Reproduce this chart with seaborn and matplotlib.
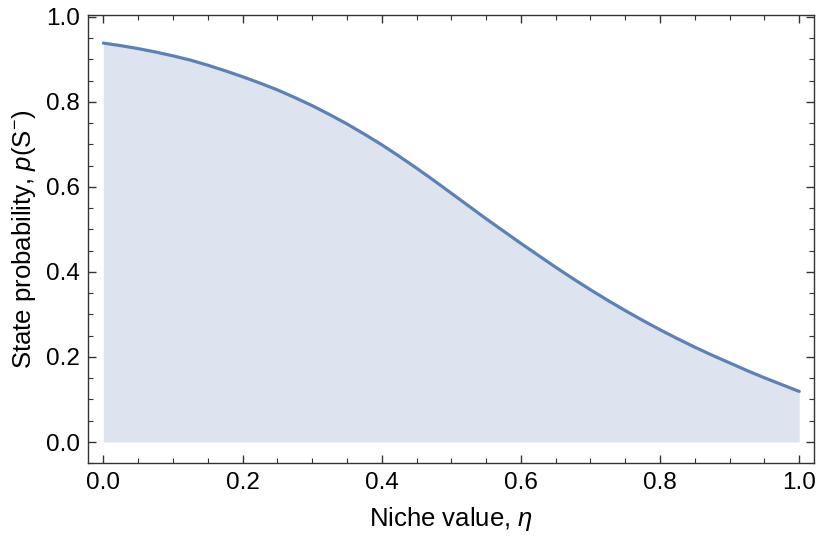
import matplotlib
matplotlib.use("Agg")
import matplotlib.pyplot as plt
import seaborn as sns
import pandas as pd
from matplotlib.ticker import MultipleLocator

eta = [0.000, 0.025, 0.050, 0.075, 0.100, 0.125, 0.150, 0.175, 0.200, 0.225,
       0.250, 0.275, 0.300, 0.325, 0.350, 0.375, 0.400, 0.425, 0.450, 0.475,
       0.500, 0.525, 0.550, 0.575, 0.600, 0.625, 0.650, 0.675, 0.700, 0.725,
       0.750, 0.775, 0.800, 0.825, 0.850, 0.875, 0.900, 0.925, 0.950, 0.975, 1.000]
prob = [0.938, 0.932, 0.925, 0.917, 0.908, 0.898, 0.886, 0.873, 0.859, 0.844,
        0.828, 0.810, 0.791, 0.770, 0.748, 0.724, 0.699, 0.672, 0.644, 0.615,
        0.585, 0.555, 0.525, 0.496, 0.467, 0.439, 0.411, 0.384, 0.358, 0.333,
        0.309, 0.286, 0.264, 0.243, 0.223, 0.204, 0.186, 0.168, 0.151, 0.135, 0.119]
x_ticks = [0.0, 0.2, 0.4, 0.6, 0.8, 1.0]
y_ticks = [0.0, 0.2, 0.4, 0.6, 0.8, 1.0]

sns.set_theme(style="ticks")
plt.rcParams['font.family'] = ['Liberation Sans', 'DejaVu Sans']
plt.rcParams['mathtext.fontset'] = 'custom'
plt.rcParams['mathtext.rm'] = 'Liberation Sans'
plt.rcParams['mathtext.it'] = 'Liberation Sans:italic'

df = pd.DataFrame({"eta": eta, "p": prob})

fig = plt.figure(figsize=(8.21, 5.46), dpi=100)
ax = fig.add_axes([0.1076, 0.1515, 0.8842, 0.821])

line_color = "#5E81B5"
ax.fill_between(df["eta"], 0, df["p"], color="#DEE4EF", linewidth=0, zorder=1)
sns.lineplot(data=df, x="eta", y="p", ax=ax, color=line_color, linewidth=2.3, zorder=3)

ax.set_xlim(-0.0216, 1.0216)
ax.set_ylim(-0.05, 1.004)
ax.set_xticks(x_ticks)
ax.set_yticks(y_ticks)
ax.set_xticklabels([f"{v:.1f}" for v in x_ticks])
ax.set_yticklabels([f"{v:.1f}" for v in y_ticks])
ax.xaxis.set_minor_locator(MultipleLocator(0.05))
ax.yaxis.set_minor_locator(MultipleLocator(0.05))

frame_c = "#333333"
for s in ax.spines.values():
    s.set_color(frame_c)
    s.set_linewidth(1.0)
ax.tick_params(which="both", direction="in", top=True, right=True, color=frame_c,
               labelsize=17.5, labelcolor="black")
ax.tick_params(which="major", length=6, width=1.0, pad=6)
ax.tick_params(which="minor", length=3.5, width=0.8)

ax.set_xlabel(r"Niche value, $\it{\eta}$", fontsize=18.5, labelpad=8, color="black")
ax.set_ylabel(r"State probability, $\it{p}$(S$^{-}$)", fontsize=18.5, labelpad=6, color="black")
ax.grid(False)

fig.savefig("out.png", dpi=100)
